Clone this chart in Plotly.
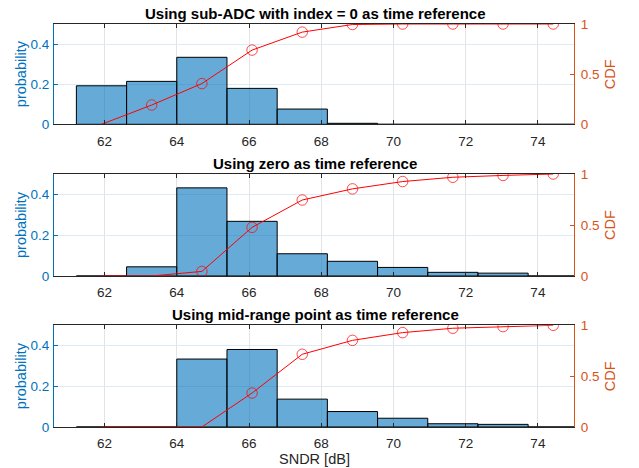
import plotly.graph_objects as go

# ---- data ----
bin_edges = [61.22, 62.61, 64.00, 65.39, 66.78, 68.17, 69.56, 70.95, 72.34, 73.73, 75.12]
cdf_x = [61.915, 63.305, 64.695, 66.085, 67.475, 68.865, 70.255, 71.645, 73.035, 74.425]

titles = [
    "Using sub-ADC with index = 0 as time reference",
    "Using zero as time reference",
    "Using mid-range point as time reference",
]

prob_subadc = [0.192, 0.214, 0.334, 0.179, 0.076, 0.005, 0.0, 0.0, 0.0, 0.0]
prob_zero = [0.0, 0.045, 0.432, 0.268, 0.109, 0.072, 0.042, 0.018, 0.014, 0.0]
prob_mid = [0.0, 0.0, 0.334, 0.381, 0.137, 0.076, 0.043, 0.016, 0.013, 0.0]

cdf_subadc = [0.0, 0.192, 0.406, 0.740, 0.919, 0.995, 1.0, 1.0, 1.0, 1.0]
cdf_zero = [0.0, 0.0, 0.045, 0.477, 0.745, 0.854, 0.926, 0.968, 0.986, 1.0]
cdf_mid = [0.0, 0.0, 0.0, 0.334, 0.715, 0.852, 0.928, 0.971, 0.987, 1.0]

x_ticks = [62, 64, 66, 68, 70, 72, 74]
left_ticks = [0, 0.2, 0.4]
left_tick_text = ["0", "0.2", "0.4"]
right_ticks = [0, 0.5, 1]
right_tick_text = ["0", "0.5", "1"]

probs = [prob_subadc, prob_zero, prob_mid]
cdfs = [cdf_subadc, cdf_zero, cdf_mid]

# ---- layout geometry (pixels) ----
W, H = 639, 468
ML, MR, MT, MB = 54, 65, 24, 41
PW = W - ML - MR
PH = H - MT - MB
panels_px = [(24.0, 124.3), (174.0, 276.0), (325.3, 427.0)]


def py2paper(py):
    return (H - MB - py) / PH


def clamp(v):
    return min(1.0, max(0.0, v))


def px2paper(px):
    return (px - ML) / PW


BLUE = "#0072BD"
ORANGE = "#D95319"
DARK = "#262626"
FONT = "Liberation Sans, Arial, sans-serif"
TICK = 13.5

centers = [(a + b) / 2 for a, b in zip(bin_edges[:-1], bin_edges[1:])]
widths = [b - a for a, b in zip(bin_edges[:-1], bin_edges[1:])]

fig = go.Figure()
layout = dict(
    width=W, height=H,
    margin=dict(l=ML, r=MR, t=MT, b=MB),
    paper_bgcolor="white", plot_bgcolor="white",
    showlegend=False,
    font=dict(family=FONT, size=13, color=DARK),
)
annotations = []

for i in range(3):
    n = i + 1
    xa = "x" if n == 1 else f"x{n}"
    yl_id = 2 * i + 1
    yr_id = 2 * i + 2
    yl = "y" if yl_id == 1 else f"y{yl_id}"
    yr = f"y{yr_id}"
    top_px, bot_px = panels_px[i]
    dom = [clamp(py2paper(bot_px)), clamp(py2paper(top_px))]

    fig.add_trace(go.Bar(
        x=centers, y=probs[i], width=widths,
        marker=dict(color="rgba(0,114,189,0.6)", line=dict(color="black", width=1)),
        xaxis=xa, yaxis=yl, hoverinfo="x+y",
    ))
    sizes = [0 if c == 0 else 10.5 for c in cdfs[i]]
    fig.add_trace(go.Scatter(
        x=cdf_x, y=cdfs[i], mode="lines+markers",
        line=dict(color="red", width=1),
        marker=dict(symbol="circle-open", size=sizes, color="red", line=dict(width=1, color="red")),
        xaxis=xa, yaxis=yr, cliponaxis=True,
    ))

    xkey = "xaxis" if n == 1 else f"xaxis{n}"
    ylkey = "yaxis" if yl_id == 1 else f"yaxis{yl_id}"
    yrkey = f"yaxis{yr_id}"

    layout[xkey] = dict(
        domain=[0, 1], anchor=yl, range=[60.6, 75.0],
        tickvals=x_ticks, ticks="inside", ticklen=4, tickcolor=DARK, tickwidth=1,
        showline=True, linecolor=DARK, linewidth=1, mirror="ticks",
        showgrid=True, gridcolor="#E3E3E3", gridwidth=1, zeroline=False,
        tickfont=dict(size=TICK, color=DARK, family=FONT),
        ticklabelstandoff=4,
    )
    layout[ylkey] = dict(
        domain=dom, anchor=xa, range=[0, 0.5],
        tickvals=left_ticks, ticktext=left_tick_text,
        ticks="inside", ticklen=4, tickcolor=BLUE, tickwidth=1,
        showline=True, linecolor=BLUE, linewidth=1,
        showgrid=True, gridcolor="#DCEBF6", gridwidth=1, zeroline=False,
        tickfont=dict(size=TICK, color=BLUE, family=FONT),
        ticklabelstandoff=1,
    )
    layout[yrkey] = dict(
        domain=dom, anchor=xa, overlaying=yl, side="right", range=[0, 1],
        tickvals=right_ticks, ticktext=right_tick_text,
        ticks="inside", ticklen=4, tickcolor=ORANGE, tickwidth=1,
        showline=True, linecolor=ORANGE, linewidth=1,
        showgrid=False, zeroline=False,
        tickfont=dict(size=TICK, color=ORANGE, family=FONT),
        ticklabelstandoff=3,
    )

    ymid = py2paper((top_px + bot_px) / 2)
    annotations.append(dict(
        text=f"<b>{titles[i]}</b>", xref="paper", yref="paper",
        x=px2paper(315), y=py2paper(top_px - 11), showarrow=False,
        font=dict(size=15, color="black", family=FONT), xanchor="center", yanchor="middle",
    ))
    annotations.append(dict(
        text="probability", xref="paper", yref="paper",
        x=px2paper(21), y=ymid, showarrow=False, textangle=-90,
        font=dict(size=14.5, color=BLUE, family=FONT), xanchor="center", yanchor="middle",
    ))
    annotations.append(dict(
        text="CDF", xref="paper", yref="paper",
        x=px2paper(610), y=ymid, showarrow=False, textangle=-90,
        font=dict(size=14.5, color=ORANGE, family=FONT), xanchor="center", yanchor="middle",
    ))

annotations.append(dict(
    text="SNDR [dB]", xref="paper", yref="paper",
    x=px2paper(314), y=py2paper(459), showarrow=False,
    font=dict(size=14.5, color=DARK, family=FONT), xanchor="center", yanchor="middle",
))
layout["annotations"] = annotations
fig.update_layout(**layout)
fig.write_html(
    "out.html",
    config={"displayModeBar": False},
    post_script="document.body.style.margin='0';document.body.style.overflow='hidden';",
)
